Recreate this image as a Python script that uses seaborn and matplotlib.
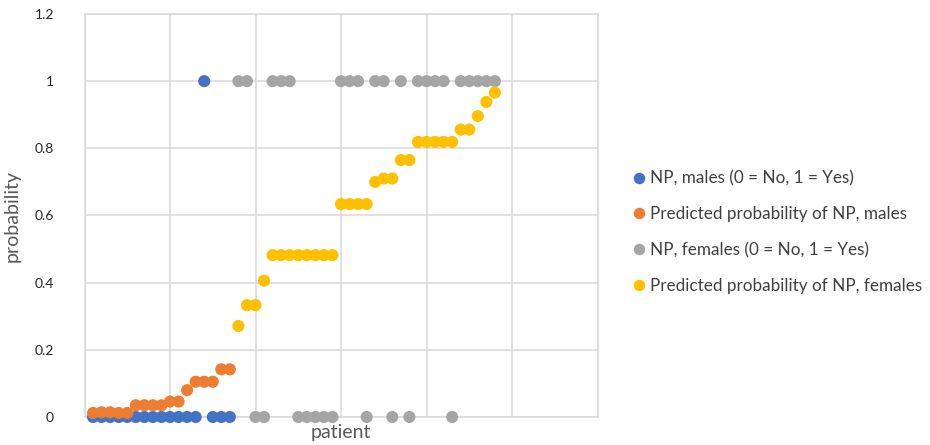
import matplotlib
matplotlib.use("Agg")
import matplotlib.pyplot as plt
import seaborn as sns
import pandas as pd

# ---- data ----
patient_males = [1, 2, 3, 4, 5, 6, 7, 8, 9, 10, 11, 12, 13, 14, 15, 16, 17]
np_males = [0, 0, 0, 0, 0, 0, 0, 0, 0, 0, 0, 0, 0, 1, 0, 0, 0]
pred_males = [0.012, 0.014, 0.014, 0.012, 0.012, 0.035, 0.035, 0.035, 0.035,
              0.046, 0.046, 0.080, 0.105, 0.105, 0.105, 0.142, 0.142]

patient_females = [18, 19, 20, 21, 22, 23, 24, 25, 26, 27, 28, 29, 30, 31, 32, 33,
                   34, 35, 36, 37, 38, 39, 40, 41, 42, 43, 44, 45, 46, 47, 48]
np_females = [1, 1, 0, 0, 1, 1, 1, 0, 0, 0, 0, 0, 1, 1, 1, 0,
              1, 1, 0, 1, 0, 1, 1, 1, 1, 0, 1, 1, 1, 1, 1]
pred_females = [0.271, 0.333, 0.333, 0.406, 0.482, 0.482, 0.482, 0.482, 0.482, 0.482,
                0.482, 0.482, 0.634, 0.634, 0.634, 0.634, 0.700, 0.710, 0.710, 0.765,
                0.765, 0.819, 0.819, 0.819, 0.819, 0.819, 0.856, 0.856, 0.896, 0.938,
                0.966]

series_names = ["NP, males (0 = No, 1 = Yes)",
                "Predicted probability of NP, males",
                "NP, females (0 = No, 1 = Yes)",
                "Predicted probability of NP, females"]
series_colors = ["#4472C4", "#ED7D31", "#A5A5A5", "#FFC000"]
y_ticks = [0, 0.2, 0.4, 0.6, 0.8, 1.0, 1.2]
y_tick_labels = ["0", "0.2", "0.4", "0.6", "0.8", "1", "1.2"]

# ---- long-form table ----
frames = []
for name, xs, ys in zip(series_names,
                        [patient_males, patient_males, patient_females, patient_females],
                        [np_males, pred_males, np_females, pred_females]):
    frames.append(pd.DataFrame({"patient": xs, "probability": ys, "series": name}))
df = pd.concat(frames, ignore_index=True)

sns.set_theme(style="white")
plt.rcParams["font.family"] = ["Lato", "DejaVu Sans"]

fig = plt.figure(figsize=(9.3, 4.45), dpi=100)
ax = fig.add_axes([84.5 / 930, 28 / 445, 513 / 930, 403 / 445])

sns.scatterplot(data=df, x="patient", y="probability", hue="series",
                hue_order=series_names, palette=series_colors,
                s=76, linewidth=0, alpha=1, ax=ax, legend=True, zorder=3,
                clip_on=False)

ax.set_xlim(0, 60)
ax.set_ylim(0, 1.2)
ax.set_xticks([0, 10, 20, 30, 40, 50, 60])
ax.set_xticklabels([])
ax.set_yticks(y_ticks)
ax.set_yticklabels(y_tick_labels)
ax.tick_params(axis="both", length=0)
ax.tick_params(axis="y", pad=22, labelsize=10, labelcolor="#262626")
ax.grid(True, color="#d9d9d9", linewidth=1.1, zorder=0)
ax.set_axisbelow(True)
for sp in ax.spines.values():
    sp.set_color("#d9d9d9")
    sp.set_linewidth(1.1)

ax.set_xlabel("patient", fontsize=14, color="#595959")
ax.set_ylabel("probability", fontsize=14, color="#595959")
ax.xaxis.set_label_coords(0.5, -0.018)
ax.yaxis.set_label_coords(-0.125, 0.5)

handles, labels = ax.get_legend_handles_labels()
leg = ax.legend(handles, labels, loc="center left",
                bbox_to_anchor=(632 / 930, 213 / 445), bbox_transform=fig.transFigure,
                frameon=False, fontsize=12.3, handlelength=0.8, handletextpad=0.25,
                labelspacing=1.15, borderpad=0, borderaxespad=0, markerscale=0.95)
for t in leg.get_texts():
    t.set_color("#404040")

fig.savefig("out.png", dpi=100)
